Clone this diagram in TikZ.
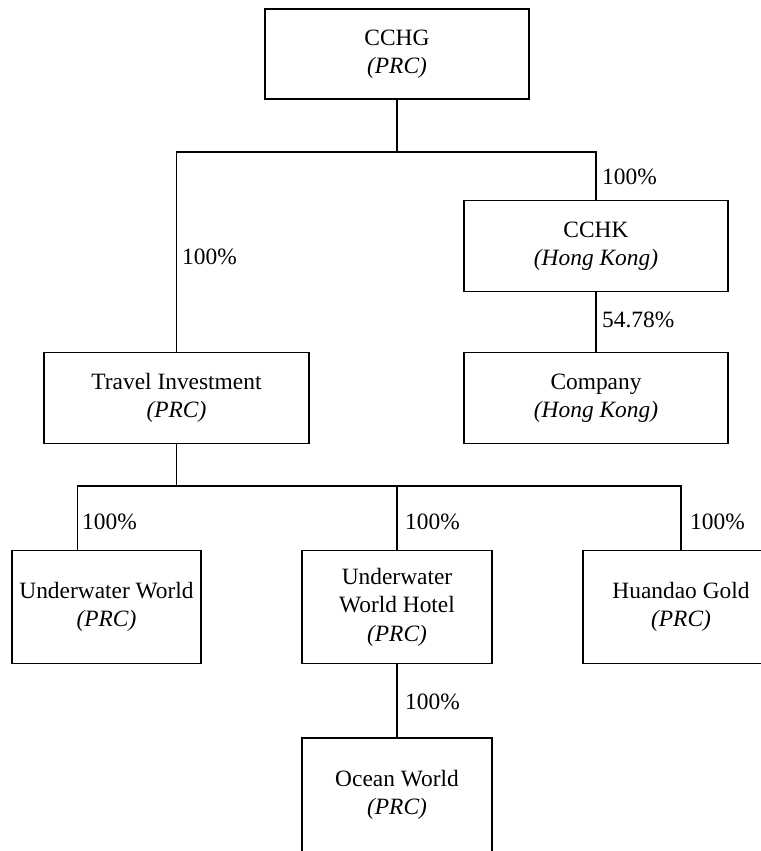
\documentclass[tikz,border=0pt]{standalone}
\usepackage{fontspec}
\setmainfont{DejaVu Serif}
\newfontfamily\tnr{Liberation Serif}
\usetikzlibrary{calc}
\begin{document}
\begin{tikzpicture}[x=1bp,y=-1bp,
  ent/.style={draw, line width=1.1bp, inner sep=0pt, align=center,
    font=\tnr\fontsize{23.4bp}{28.5bp}\selectfont},
  pct/.style={anchor=west, inner sep=0pt, font=\tnr\fontsize{23.4bp}{28bp}\selectfont},
  conn/.style={line width=1.1bp}]
\useasboundingbox (0,0) rectangle (761,851);
\clip (0,0) rectangle (761,851);
\node[ent, minimum width=264bp, minimum height=90bp] (CCHG) at (397,54) {CCHG\\\textit{(PRC)}};
\node[ent, minimum width=264bp, minimum height=91bp] (CCHK) at (596,246) {CCHK\\\textit{(Hong Kong)}};
\node[ent, minimum width=264bp, minimum height=91bp] (CO) at (596,398) {Company\\\textit{(Hong Kong)}};
\node[ent, minimum width=265bp, minimum height=91bp] (TI) at (176.5,398) {Travel Investment\\\textit{(PRC)}};
\node[ent, minimum width=189bp, minimum height=113bp] (UW) at (106.5,607) {Underwater World\\\textit{(PRC)}};
\node[ent, minimum width=190bp, minimum height=113bp] (UWH) at (397,607) {Underwater\\World Hotel\\\textit{(PRC)}};
\node[ent, minimum width=196bp, minimum height=113bp] (HG) at (681,607) {Huandao Gold\\\textit{(PRC)}};
\node[ent, minimum width=190bp, minimum height=114bp] (OW) at (397,795) {Ocean World\\\textit{(PRC)}};
\coordinate (j1) at (397,152);
\coordinate (j2) at (176.5,486);
\draw[conn] (CCHG.south) -- (j1);
\draw[conn] (j1) -| (TI.north);
\draw[conn] (j1) -| (CCHK.north);
\draw[conn] (CCHK.south) -- (CO.north);
\draw[conn] (TI.south) -- (j2);
\draw[conn] (j2) -| ($(UW.north west)!0.349!(UW.north east)$);
\draw[conn] (j2) -| (UWH.north);
\draw[conn] (j2) -| (HG.north);
\draw[conn] (UWH.south) -- (OW.north);
\node[pct] (p1) at (182,257) {100\%};
\node[pct] (p2) at (602,177) {100\%};
\node[pct] (p3) at (602,320) {54.78\%};
\node[pct] (p4) at (82,522) {100\%};
\node[pct] (p5) at (405,522) {100\%};
\node[pct] (p6) at (690,522) {100\%};
\node[pct] (p7) at (405,702) {100\%};
\end{tikzpicture}
\end{document}
